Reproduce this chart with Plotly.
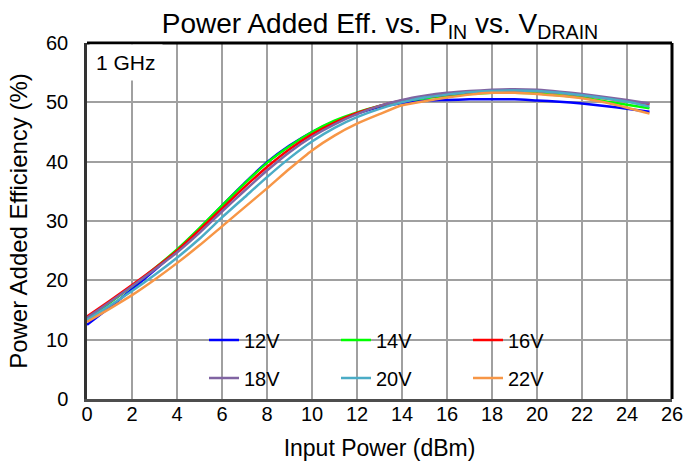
import plotly.graph_objects as go

pin_dbm = list(range(0, 26))

series_names = ["12V", "14V", "16V", "18V", "20V", "22V"]
series_colors = ["#0000FF", "#00FF00", "#FF0000", "#8064A2", "#4BACC6", "#F79646"]

pae_12v = [12.5, 15.4, 18.5, 21.7, 25.0, 28.7, 32.6, 36.4, 39.9, 42.7, 45.0, 46.8, 48.1,
           49.2, 49.9, 50.3, 50.4, 50.5, 50.5, 50.5, 50.3, 50.1, 49.8, 49.4, 48.9, 48.4]
pae_14v = [13.6, 16.2, 19.0, 22.0, 25.2, 28.8, 32.6, 36.3, 39.8, 42.6, 45.0, 46.9, 48.3,
           49.4, 50.2, 50.7, 51.1, 51.4, 51.6, 51.6, 51.5, 51.2, 50.8, 50.2, 49.6, 49.0]
pae_16v = [13.9, 16.5, 19.2, 22.0, 25.0, 28.5, 32.1, 35.7, 39.1, 42.1, 44.6, 46.6, 48.2,
           49.4, 50.3, 50.9, 51.3, 51.7, 51.9, 52.0, 51.9, 51.6, 51.2, 50.7, 50.2, 49.7]
pae_18v = [13.7, 16.3, 19.0, 21.8, 24.7, 28.0, 31.6, 35.1, 38.5, 41.6, 44.2, 46.3, 48.0,
           49.4, 50.4, 51.1, 51.6, 51.9, 52.1, 52.2, 52.1, 51.8, 51.4, 50.9, 50.4, 49.8]
pae_20v = [13.3, 15.7, 18.2, 20.9, 23.8, 27.0, 30.6, 34.0, 37.4, 40.6, 43.4, 45.7, 47.5,
           48.9, 50.0, 50.8, 51.3, 51.7, 51.9, 52.0, 51.9, 51.6, 51.2, 50.7, 50.1, 49.3]
pae_22v = [13.0, 15.2, 17.5, 20.1, 22.9, 25.9, 29.1, 32.3, 35.5, 38.8, 41.9, 44.4, 46.4,
           48.0, 49.5, 50.2, 50.8, 51.3, 51.6, 51.6, 51.4, 51.1, 50.7, 50.0, 49.1, 48.1]

all_series = [pae_12v, pae_14v, pae_16v, pae_18v, pae_20v, pae_22v]

x_ticks = list(range(0, 27, 2))
y_ticks = list(range(0, 61, 10))

FONT = "Liberation Sans, Arial, sans-serif"

fig = go.Figure()
for i, (name, color, vals) in enumerate(zip(series_names, series_colors, all_series)):
    fig.add_trace(go.Scatter(
        x=pin_dbm, y=vals, mode="lines", name=name,
        line=dict(color=color, width=2.5, shape="spline", smoothing=0.6),
        legend="legend" if i < 3 else "legend2",
    ))

legend_common = dict(orientation="h", x=0.2, xanchor="left", yanchor="middle",
                     bgcolor="rgba(0,0,0,0)", font=dict(size=20, family=FONT),
                     entrywidth=87, entrywidthmode="pixels", itemwidth=30)

fig.update_layout(
    width=684, height=461,
    margin=dict(l=87, r=12, t=43, b=62),
    paper_bgcolor="white", plot_bgcolor="white",
    font=dict(family=FONT, color="#000000"),
    title=dict(text="Power Added Eff. vs. P<sub>IN</sub> vs. V<sub>DRAIN</sub>",
               x=0.5556, xanchor="center", y=0.971, yanchor="top",
               font=dict(size=28, family=FONT, color="#000000")),
    xaxis=dict(range=[0, 26], tickvals=x_ticks, showgrid=True, gridcolor="#A0A0A0", gridwidth=1.5,
               showline=True, linecolor="#4D4D4D", linewidth=2.5, zeroline=False, automargin=False,
               tickfont=dict(size=20, family=FONT), ticks="", ticklabelstandoff=-5,
               ticklabeloverflow="allow",
               title=dict(text="Input Power (dBm)", font=dict(size=23, family=FONT), standoff=18)),
    yaxis=dict(range=[0, 60], tickvals=y_ticks, showgrid=True, gridcolor="#A0A0A0", gridwidth=1.5,
               showline=True, linecolor="#333333", linewidth=2.5, zeroline=False, automargin=False,
               tickfont=dict(size=20, family=FONT), ticks="", ticklabelstandoff=12,
               title=dict(text="Power Added Efficiency (%)", font=dict(size=24, family=FONT), standoff=12)),
    legend=dict(legend_common, y=0.166),
    legend2=dict(legend_common, y=0.059),
    shapes=[
        dict(type="rect", xref="paper", yref="paper", x0=0.176, x1=0.82, y0=0.004, y1=0.218,
             fillcolor="white", line=dict(width=0), layer="between"),
        dict(type="line", xref="paper", yref="paper", x0=0, x1=1, y0=1, y1=1,
             line=dict(color="#000000", width=3)),
        dict(type="line", xref="paper", yref="paper", x0=1, x1=1, y0=0, y1=1,
             line=dict(color="#000000", width=3)),
    ],
    annotations=[
        dict(text="1 GHz", xref="paper", yref="paper", x=0.003, y=0.996, xanchor="left", yanchor="top",
             showarrow=False, font=dict(size=21, family=FONT), bgcolor="white", borderpad=6),
    ],
)

fig.write_html(
    "out.html",
    config={"displayModeBar": False},
    post_script="document.documentElement.style.overflow='hidden';"
                "document.body.style.margin='0';document.body.style.overflow='hidden';",
)
